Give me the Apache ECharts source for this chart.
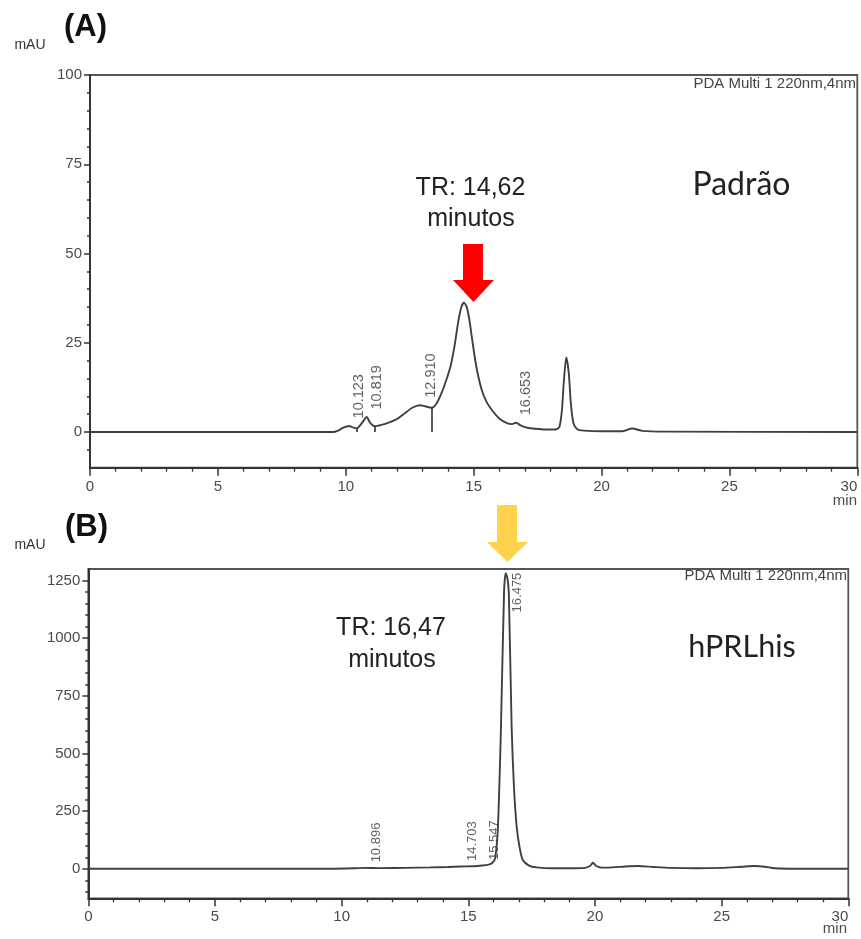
<!DOCTYPE html>
<html>
<head>
<meta charset="utf-8">
<script src="https://cdn.jsdelivr.net/npm/echarts@6/dist/echarts.min.js"></script>
<style>
  html, body { margin: 0; padding: 0; background: #fff; }
  #chart { width: 861px; height: 939px; }
</style>
</head>
<body>
<div id="chart"></div>
<script>
// (A) Padrão — PDA Multi 1 220nm,4nm (time in min, absorbance in mAU)
const timeA = [0, 9.5, 9.7, 9.9, 10.123, 10.3, 10.43, 10.6, 10.819, 10.95, 11.13, 11.4, 11.7, 12.0, 12.3, 12.6, 12.910, 13.1, 13.36, 13.55, 13.75, 13.95, 14.1, 14.25, 14.4, 14.52, 14.62, 14.72, 14.82, 14.95, 15.1, 15.3, 15.5, 15.75, 16.0, 16.3, 16.5, 16.653, 16.85, 17.1, 17.4, 17.8, 18.2, 18.35, 18.45, 18.53, 18.62, 18.72, 18.8, 18.9, 19.05, 19.3, 20.0, 20.8, 21.2, 21.6, 22.5, 30];
const absA  = [0, 0, 0.4, 1.2, 1.7, 1.2, 1.0, 2.2, 4.2, 2.6, 1.6, 2.0, 2.7, 3.6, 5.2, 6.8, 7.5, 7.2, 6.8, 8.0, 11.0, 15.0, 18.5, 24.0, 31.0, 35.0, 36.2, 35.2, 32.0, 25.5, 18.5, 12.2, 8.5, 5.8, 3.8, 2.5, 2.2, 2.6, 1.8, 1.2, 0.9, 0.7, 0.7, 1.4, 6.0, 14.5, 20.9, 16.5, 8.0, 2.5, 0.8, 0.4, 0.2, 0.2, 1.0, 0.3, 0.1, 0];

// integrated peaks and drop lines of (A)
const peakRtA = [10.123, 10.819, 12.910, 16.653];
const peakHtA = [1.7, 4.2, 7.5, 2.6];
const dropRtA = [10.43, 11.13, 13.36];
const dropHtA = [1.0, 1.6, 6.8];

// (B) hPRLhis
const timeB = [0, 9.5, 10.5, 10.896, 11.5, 12.5, 13.5, 14.2, 14.703, 15.2, 15.547, 15.8, 15.95, 16.06, 16.17, 16.29, 16.41, 16.475, 16.54, 16.6, 16.71, 16.8, 16.91, 17.03, 17.15, 17.4, 17.7, 18.3, 19.0, 19.6, 19.8, 19.92, 20.05, 20.25, 20.7, 21.2, 21.7, 22.3, 23.0, 24.0, 25.0, 25.8, 26.3, 26.7, 27.1, 28.0, 30];
const absB  = [0, 0, 2, 4, 3, 4, 6, 8, 10, 11, 14, 18, 26, 45, 182, 616, 1195, 1282, 1262, 1195, 616, 360, 182, 90, 38, 14, 6, 2, 2, 4, 12, 26, 12, 5, 6, 10, 12, 8, 4, 2, 4, 9, 12, 9, 2, 0, 0];

const peakRtB = [10.896, 14.703, 15.547];
const peakHtB = [4, 10, 14];
const apexRtB = [16.475];
const apexHtB = [1282];

// axis ticks
const yLabelsA = [0, 25, 50, 75, 100];
const yMinorA  = [-5, 5, 10, 15, 20, 30, 35, 40, 45, 55, 60, 65, 70, 80, 85, 90, 95];
const yLabelsB = [0, 250, 500, 750, 1000, 1250];
const yMinorB  = [-100, -50, 50, 100, 150, 200, 300, 350, 400, 450, 550, 600, 650, 700, 800, 850, 900, 950, 1050, 1100, 1150, 1200];

const zip = (xs, ys) => xs.map((x, i) => [x, ys[i]]);

const FONT = 'Liberation Sans, Arial, sans-serif';
const AX = '#333';
const TXT = '#4a4a4a';

function xAxisFor(grid, margin) {
  return {
    type: 'value', gridIndex: grid, min: 0, max: 30, interval: 5,
    axisLine: { show: true, onZero: false, lineStyle: { color: AX, width: 2 } },
    axisTick: { show: true, length: 8, lineStyle: { color: AX, width: 1.5 } },
    minorTick: { show: true, splitNumber: 5, length: 4, lineStyle: { color: AX, width: 1.3 } },
    axisLabel: { fontFamily: FONT, fontSize: 15, color: TXT, margin: margin, alignMaxLabel: 'right', formatter: v => String(v) },
    splitLine: { show: false }, minorSplitLine: { show: false }
  };
}
function yAxesFor(grid, min, max, labels, minor) {
  return [{
    type: 'value', gridIndex: grid, min: min, max: max, position: 'left',
    axisLine: { show: true, onZero: false, lineStyle: { color: AX, width: 2 } },
    axisTick: { show: true, length: 6, customValues: labels, lineStyle: { color: AX, width: 1.5 } },
    axisLabel: { fontFamily: FONT, fontSize: 15, color: TXT, margin: 8, customValues: labels, formatter: v => String(v) },
    splitLine: { show: false }
  }, {
    type: 'value', gridIndex: grid, min: min, max: max, position: 'left',
    axisLine: { show: false },
    axisTick: { show: true, length: 3, customValues: minor, lineStyle: { color: AX, width: 1.5 } },
    axisLabel: { show: false },
    splitLine: { show: false }
  }];
}

const traceStyle = { color: '#404040', width: 1.9 };
const peakLabel = (pos, align, size) => ({
  show: true, rotate: 90, position: pos, align: align, verticalAlign: 'middle',
  fontFamily: FONT, fontSize: size, color: '#3a3a3a',
  formatter: p => p.value[0].toFixed(3)
});

const chart = echarts.init(document.getElementById('chart'), null, { renderer: 'canvas' });
chart.setOption({
  animation: false,
  backgroundColor: '#fff',
  grid: [
    { left: 90, right: 3.7, top: 75, bottom: 471.3, show: true, borderColor: '#555', borderWidth: 1.8 },
    { left: 88.3, right: 12.7, top: 569, bottom: 40.7, show: true, borderColor: '#555', borderWidth: 1.8 }
  ],
  xAxis: [xAxisFor(0, 12), xAxisFor(1, 11)],
  yAxis: [].concat(yAxesFor(0, -10, 100, yLabelsA, yMinorA), yAxesFor(1, -128, 1300, yLabelsB, yMinorB)),
  series: [
    {
      type: 'line', name: 'Padrão', xAxisIndex: 0, yAxisIndex: 0,
      data: zip(timeA, absA), showSymbol: false, smooth: 0.25,
      lineStyle: traceStyle,
      markLine: {
        silent: true, symbol: 'none', label: { show: false },
        lineStyle: { color: '#333', width: 1.6, type: 'solid' },
        data: dropRtA.map((t, i) => [{ coord: [t, 0] }, { coord: [t, dropHtA[i]] }])
      }
    },
    {
      type: 'scatter', xAxisIndex: 0, yAxisIndex: 0, symbolSize: 1,
      itemStyle: { color: 'transparent' }, silent: true,
      data: zip(peakRtA, peakHtA),
      label: peakLabel([11, -7], 'left', 14.5)
    },
    {
      type: 'line', name: 'hPRLhis', xAxisIndex: 1, yAxisIndex: 2,
      data: zip(timeB, absB), showSymbol: false, smooth: 0.25,
      lineStyle: traceStyle
    },
    {
      type: 'scatter', xAxisIndex: 1, yAxisIndex: 2, symbolSize: 1,
      itemStyle: { color: 'transparent' }, silent: true,
      data: zip(peakRtB, peakHtB),
      label: peakLabel([12.5, -5], 'left', 13)
    },
    {
      type: 'scatter', xAxisIndex: 1, yAxisIndex: 2, symbolSize: 1,
      itemStyle: { color: 'transparent' }, silent: true,
      data: zip(apexRtB, apexHtB),
      label: peakLabel([12.5, 0], 'right', 13)
    }
  ],
  graphic: [
    // panel tags and units
    { type: 'text', left: 64, top: 12, style: { text: '(A)', font: 'bold 31px ' + FONT, fill: '#111' } },
    { type: 'text', x: 30, y: 45, style: { text: 'mAU', font: '14px ' + FONT, fill: '#333', align: 'center', verticalAlign: 'middle' } },
    { type: 'text', left: 65, top: 512, style: { text: '(B)', font: 'bold 31px ' + FONT, fill: '#111' } },
    { type: 'text', x: 30, y: 545, style: { text: 'mAU', font: '14px ' + FONT, fill: '#333', align: 'center', verticalAlign: 'middle' } },
    // detector channel
    { type: 'text', x: 856, y: 84, style: { text: 'PDA Multi 1 220nm,4nm', font: '15px ' + FONT, fill: '#444', align: 'right', verticalAlign: 'middle' } },
    { type: 'text', x: 847, y: 576, style: { text: 'PDA Multi 1 220nm,4nm', font: '15px ' + FONT, fill: '#444', align: 'right', verticalAlign: 'middle' } },
    // time unit
    { type: 'text', x: 857, y: 501, style: { text: 'min', font: '15px ' + FONT, fill: TXT, align: 'right', verticalAlign: 'middle' } },
    { type: 'text', x: 847, y: 929, style: { text: 'min', font: '15px ' + FONT, fill: TXT, align: 'right', verticalAlign: 'middle' } },
    // retention time notes
    { type: 'text', x: 470.5, y: 188, style: { text: 'TR: 14,62', font: '25px ' + FONT, fill: '#222', align: 'center', verticalAlign: 'middle' } },
    { type: 'text', x: 471, y: 219, style: { text: 'minutos', font: '25px ' + FONT, fill: '#222', align: 'center', verticalAlign: 'middle' } },
    { type: 'text', x: 741.5, y: 185, style: { text: 'Padrão', font: '32px Lato, sans-serif', fill: '#222', align: 'center', verticalAlign: 'middle' } },
    { type: 'text', x: 391, y: 628, style: { text: 'TR: 16,47', font: '25px ' + FONT, fill: '#222', align: 'center', verticalAlign: 'middle' } },
    { type: 'text', x: 392, y: 660, style: { text: 'minutos', font: '25px ' + FONT, fill: '#222', align: 'center', verticalAlign: 'middle' } },
    { type: 'text', x: 742, y: 647, style: { text: 'hPRLhis', font: '30.5px Lato, sans-serif', fill: '#222', align: 'center', verticalAlign: 'middle' } },
    // arrows
    { type: 'polygon', shape: { points: [[463, 244], [483, 244], [483, 280], [494, 280], [473.5, 302], [453, 280], [463, 280]] }, style: { fill: '#ff0000' } },
    { type: 'polygon', shape: { points: [[497, 505], [517, 505], [517, 542], [528, 542], [507.5, 562], [487, 542], [497, 542]] }, style: { fill: '#ffd24d' } }
  ]
});
</script>
</body>
</html>
